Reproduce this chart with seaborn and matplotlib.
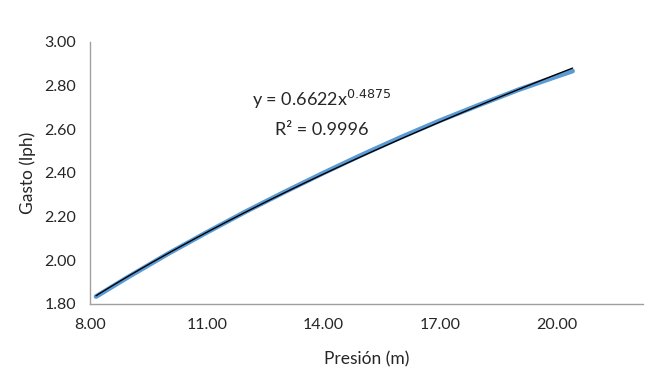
import matplotlib
matplotlib.use('Agg')
import matplotlib.pyplot as plt
import seaborn as sns
import numpy as np
import pandas as pd

presion = [8.15, 9.0, 10.0, 11.0, 12.0, 13.0, 14.0, 15.0, 16.0, 17.0, 18.0, 19.0, 20.0, 20.4]
gasto = [1.834, 1.926, 2.030, 2.128, 2.223, 2.313, 2.400, 2.484, 2.564, 2.640, 2.711, 2.780, 2.842, 2.866]

x_ticks = [8, 11, 14, 17, 20]
y_ticks = [1.80, 2.00, 2.20, 2.40, 2.60, 2.80, 3.00]

df = pd.DataFrame({'presion': presion, 'gasto': gasto})

# power trendline y = a*x^b, fitted in log space like Excel does
b, loga = np.polyfit(np.log(df['presion']), np.log(df['gasto']), 1)
a = np.exp(loga)
xs = np.linspace(min(presion), max(presion), 100)
trend = pd.DataFrame({'presion': xs, 'gasto': a * xs ** b})

sns.set_style('white')
plt.rcParams['font.family'] = ['Lato', 'DejaVu Sans']

fig = plt.figure(figsize=(6.68, 3.8), dpi=100)
ax = fig.add_axes([0.135, 0.20, 0.827, 0.69])

sns.lineplot(data=df, x='presion', y='gasto', ax=ax, color='#5b9bd5', linewidth=3.4)
sns.lineplot(data=trend, x='presion', y='gasto', ax=ax, color='black', linewidth=1.0)

ax.set_xlim(8, 22.2)
ax.set_ylim(1.80, 3.00)
ax.set_xticks(x_ticks)
ax.set_yticks(y_ticks)
ax.set_xticklabels([f'{v:.2f}' for v in x_ticks], fontsize=11.5)
ax.set_yticklabels([f'{v:.2f}' for v in y_ticks], fontsize=11.5)
ax.tick_params(axis='both', direction='out', length=4, color='#a0a0a0', width=1, pad=6)

for s in ['top', 'right']:
    ax.spines[s].set_visible(False)
for s in ['left', 'bottom']:
    ax.spines[s].set_color('#a0a0a0')
    ax.spines[s].set_linewidth(1)

ax.set_xlabel('Presión (m)', fontsize=12.5, labelpad=14)
ax.set_ylabel('Gasto (lph)', fontsize=12.5, labelpad=6)

ax.text(0.42, 0.755, r'y = 0.6622x$^{0.4875}$', transform=ax.transAxes,
        fontsize=13, ha='center')
ax.text(0.42, 0.645, 'R² = 0.9996', transform=ax.transAxes,
        fontsize=13, ha='center')

fig.savefig('out.png', dpi=100)
